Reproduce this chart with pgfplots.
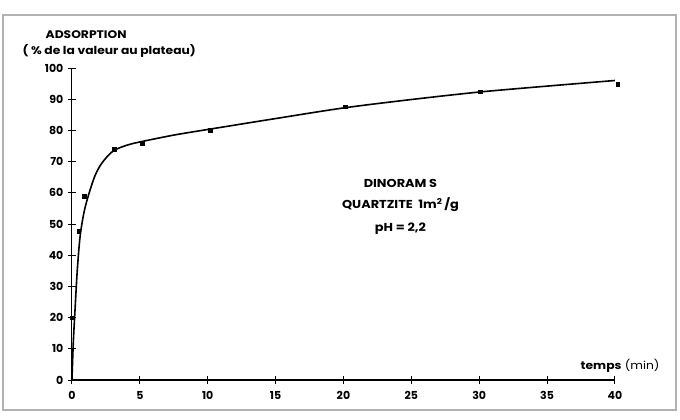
\documentclass[border=0pt]{standalone}
\usepackage{pgfplots}
\pgfplotsset{compat=1.18}
\usepackage{fontspec}
\setmainfont{Poppins}
\newcommand{\wide}{\addfontfeature{FakeStretch=1.12}}
\begin{document}
\begin{tikzpicture}[x=1pt,y=1pt]
\begin{axis}[
  scale only axis, width=543pt, height=312pt,
  xmin=0, xmax=40, ymin=0, ymax=100,
  axis x line=bottom, axis y line=left,
  axis line style={-, line width=1.1pt, black},
  xtick={0,5,...,40}, ytick={0,10,...,100},
  tick align=center, major tick length=8pt,
  tick style={line width=1pt, black},
  /pgf/number format/assume math mode=true,
  ticklabel style={font=\fontsize{11}{13}\selectfont\bfseries},
  xticklabel style={yshift=-4pt},
  yticklabel style={xshift=-1pt},
  clip=false,
]
\path (axis cs:-5.3,-12.5) rectangle (axis cs:44.79,121.8);
\draw[gray!60, line width=1.3pt] (axis cs:-5.08,-9.6) rectangle (axis cs:44.5,117);
\addplot[black, line width=1.6pt, smooth, tension=0.5, no marks] coordinates {
 (0,0) (0.1,12) (0.22,22) (0.39,35) (0.6,46) (0.9,54) (1.27,60) (1.7,65.5) (2.2,69.5) (3,73.3) (4,75.2) (5,76.3) (7.5,78.5) (10,80.3) (15,83.8) (20,87.2) (25,89.9) (30,92.3) (35,94.2) (40,96)
};
\addplot[only marks, mark=square*, mark size=1.9pt, black] coordinates {
 (0,20) (0.5,47.8) (0.93,59) (3.1,74) (5.2,76) (10.2,80) (20.1,87.6) (30.1,92.4) (40.2,94.8)
};
\node[anchor=west, inner sep=0pt, font=\fontsize{11}{13}\selectfont\bfseries\wide] at (axis cs:-1.95,110.7) {ADSORPTION};
\node[anchor=west, inner sep=0pt, font=\fontsize{11}{13}\selectfont\bfseries\wide] at (axis cs:-3.65,105.5) {( \% de la valeur au plateau)};
\node[anchor=east, inner sep=0pt, font=\fontsize{11}{13}\selectfont\wide] at (axis cs:43.3,4.5) {\textbf{temps} (min)};
\node[font=\fontsize{11.5}{13}\selectfont\bfseries\wide] at (axis cs:24.2,63.1) {DINORAM S};
\node[font=\fontsize{11.5}{13}\selectfont\bfseries\wide] at (axis cs:24.2,56.1) {QUARTZITE\ \ 1m\textsuperscript{2}\,/g};
\node[font=\fontsize{11.5}{13}\selectfont\bfseries\wide] at (axis cs:24.2,48.4) {pH = 2,2};
\end{axis}
\end{tikzpicture}
\end{document}
